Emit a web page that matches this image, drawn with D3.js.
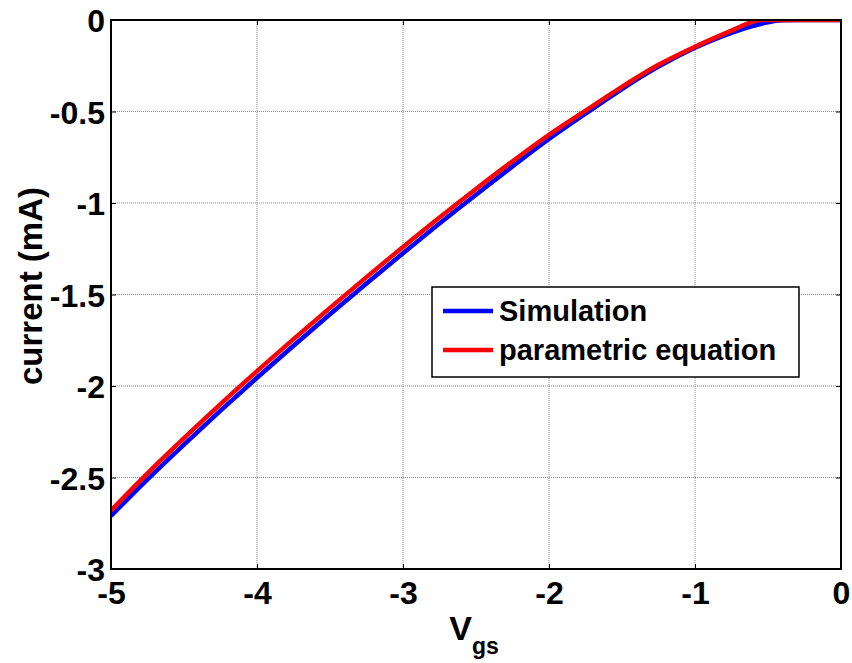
<!DOCTYPE html>
<html>
<head>
<meta charset="utf-8">
<script src="https://cdn.jsdelivr.net/npm/d3@7"></script>
<style>
  html, body { margin: 0; padding: 0; background: #fff; }
  svg { display: block; }
  text { font-family: "Liberation Sans", Arial, sans-serif; font-weight: bold; }
</style>
</head>
<body>
<svg id="chart" width="852" height="663"></svg>
<script>
// Gate voltage sweep (V)
const vgsSim = [-5.00, -4.75, -4.50, -4.25, -4.00, -3.75, -3.50, -3.25, -3.00, -2.75, -2.50, -2.25, -2.00, -1.75, -1.50, -1.25, -1.00, -0.75, -0.60, -0.50, -0.40, -0.30, 0.00];
// Simulated drain current (mA)
const currentSim = [-2.71, -2.51, -2.32, -2.135, -1.955, -1.78, -1.608, -1.44, -1.275, -1.112, -0.955, -0.80, -0.65, -0.512, -0.377, -0.255, -0.152, -0.07, -0.032, -0.012, -0.002, 0, 0];

const vgsEq = [-5.00, -4.75, -4.50, -4.25, -4.00, -3.75, -3.50, -3.25, -3.00, -2.75, -2.50, -2.25, -2.00, -1.75, -1.50, -1.25, -1.00, -0.75, -0.60, -0.55, -0.25, 0.00];
// Current from the parametric equation (mA)
const currentEq = [-2.68, -2.477, -2.285, -2.099, -1.919, -1.744, -1.573, -1.405, -1.24, -1.079, -0.923, -0.772, -0.627, -0.495, -0.365, -0.245, -0.146, -0.058, -0.008, 0, 0, 0];

const xTicks = [-5, -4, -3, -2, -1, 0];
const yTicks = [0, -0.5, -1, -1.5, -2, -2.5, -3];
const seriesNames = ["Simulation", "parametric equation"];
const seriesColors = ["#0000ff", "#ff0000"];

const svg = d3.select("#chart");
const mLeft = 111, mRight = 841, mTop = 20, mBottom = 569;

const x = d3.scaleLinear().domain([-5, 0]).range([mLeft, mRight]);
const y = d3.scaleLinear().domain([-3, 0]).range([mBottom, mTop]);

// plain hyphen-minus labels
const fmt = d => String(d);

// grid
const grid = svg.append("g");
grid.selectAll(".gx").data(xTicks.slice(1, -1)).enter().append("line")
  .attr("x1", d => x(d)).attr("x2", d => x(d)).attr("y1", mTop).attr("y2", mBottom)
  .attr("stroke", "#8c8c8c").attr("stroke-width", 1).attr("stroke-dasharray", "1,1");
grid.selectAll(".gy").data(yTicks.slice(1, -1)).enter().append("line")
  .attr("y1", d => y(d)).attr("y2", d => y(d)).attr("x1", mLeft).attr("x2", mRight)
  .attr("stroke", "#8c8c8c").attr("stroke-width", 1).attr("stroke-dasharray", "1,1");

// axes with inward ticks
const xAxis = d3.axisBottom(x).tickValues(xTicks).tickSize(-5).tickPadding(12).tickFormat(fmt);
const yAxis = d3.axisLeft(y).tickValues(yTicks).tickSize(-5).tickPadding(6).tickFormat(fmt);

const gx = svg.append("g").attr("transform", `translate(0,${mBottom})`).call(xAxis);
const gy = svg.append("g").attr("transform", `translate(${mLeft},0)`).call(yAxis);
const gxTop = svg.append("g").attr("transform", `translate(0,${mTop})`).call(d3.axisTop(x).tickValues(xTicks).tickSize(-5).tickFormat(""));
const gyRight = svg.append("g").attr("transform", `translate(${mRight},0)`).call(d3.axisRight(y).tickValues(yTicks).tickSize(-5).tickFormat(""));

[gx, gy, gxTop, gyRight].forEach(g => {
  g.select(".domain").remove();
  g.selectAll(".tick line").attr("stroke", "#000").attr("stroke-width", 1);
});
gx.selectAll(".tick text").attr("font-size", 32).attr("fill", "#000").attr("dy", "0.72em");
gy.selectAll(".tick text").attr("font-size", 32).attr("fill", "#000").attr("dy", "0.36em");

// lines
svg.append("clipPath").attr("id", "plotClip").append("rect")
  .attr("x", mLeft).attr("y", mTop).attr("width", mRight - mLeft).attr("height", mBottom - mTop);

const line = d3.line().x(d => x(d[0])).y(d => y(d[1])).curve(d3.curveMonotoneX);
const plot = svg.append("g").attr("clip-path", "url(#plotClip)");
plot.append("path").datum(d3.zip(vgsSim, currentSim)).attr("d", line)
  .attr("fill", "none").attr("stroke", seriesColors[0]).attr("stroke-width", 4.5).attr("stroke-linejoin", "round");
plot.append("path").datum(d3.zip(vgsEq, currentEq)).attr("d", line)
  .attr("fill", "none").attr("stroke", seriesColors[1]).attr("stroke-width", 4.5).attr("stroke-linejoin", "round");

// box
svg.append("rect").attr("x", mLeft).attr("y", mTop).attr("width", mRight - mLeft).attr("height", mBottom - mTop)
  .attr("fill", "none").attr("stroke", "#000").attr("stroke-width", 2);

// axis titles
svg.append("text").attr("transform", "translate(42,286) rotate(-90)")
  .attr("text-anchor", "middle").attr("font-size", 33).attr("fill", "#000").text("current (mA)");
const xl = svg.append("text").attr("x", 474).attr("y", 640).attr("text-anchor", "middle").attr("fill", "#000");
xl.append("tspan").attr("font-size", 34).text("V");
xl.append("tspan").attr("font-size", 23).attr("dy", 14).text("gs");

// legend
const lg = svg.append("g");
lg.append("rect").attr("x", 432).attr("y", 287).attr("width", 367).attr("height", 90)
  .attr("fill", "#fff").attr("stroke", "#000").attr("stroke-width", 1.5);
seriesNames.forEach((name, i) => {
  const yy = 311 + i * 39;
  lg.append("line").attr("x1", 443).attr("x2", 493).attr("y1", yy).attr("y2", yy)
    .attr("stroke", seriesColors[i]).attr("stroke-width", 4.5);
  lg.append("text").attr("x", 499).attr("y", yy).attr("dy", "0.36em")
    .attr("font-size", 29).attr("fill", "#000").text(name);
});
</script>
</body>
</html>
